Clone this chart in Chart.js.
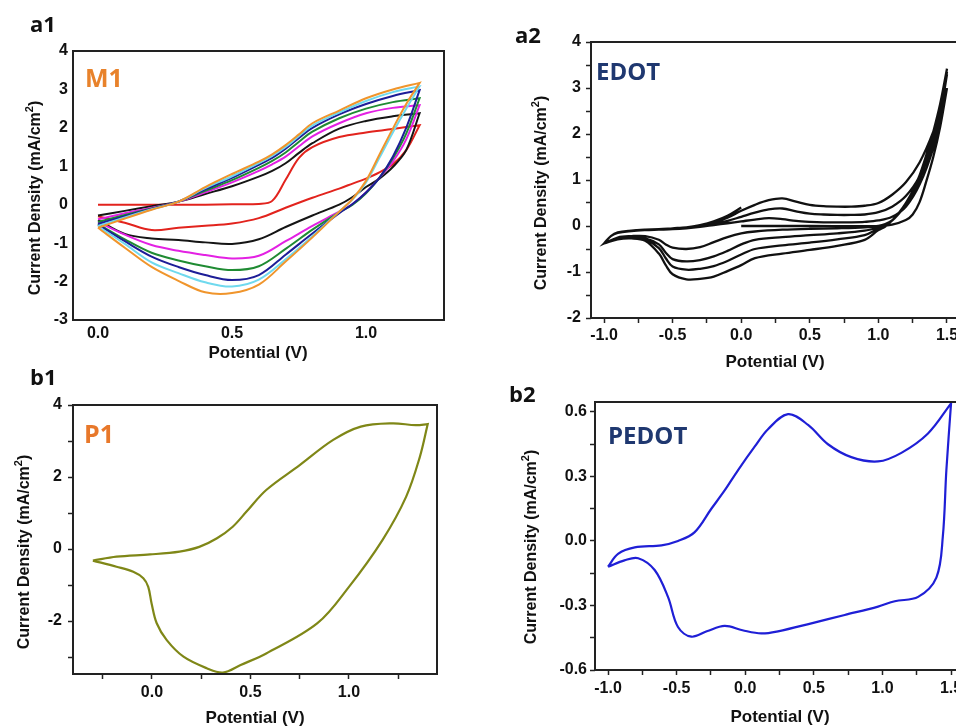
<!DOCTYPE html>
<html>
<head>
<meta charset="utf-8">
<title>CV curves M1 / EDOT / P1 / PEDOT</title>
<script src="https://cdn.jsdelivr.net/npm/chart.js@4.4.1/dist/chart.umd.min.js"></script>
<style>
  html, body { margin: 0; padding: 0; background: #fff; overflow: hidden; }
  #fig { position: relative; width: 956px; height: 727px; overflow: hidden; background: #fff; }
  #fig canvas { position: absolute; }
  .tag { position: absolute; font: 700 22px/22px "Open Sans", sans-serif; color: #111; }
</style>
</head>
<body>
<div id="fig">
  <canvas id="a1" width="478" height="372" style="left:0;top:0"></canvas>
  <canvas id="a2" width="500" height="372" style="left:478px;top:0"></canvas>
  <canvas id="b1" width="478" height="355" style="left:0;top:372px"></canvas>
  <canvas id="b2" width="500" height="355" style="left:478px;top:372px"></canvas>
  <div class="tag" style="left:30px;top:12px">a1</div>
  <div class="tag" style="left:515px;top:23px">a2</div>
  <div class="tag" style="left:30px;top:365px">b1</div>
  <div class="tag" style="left:509px;top:382px">b2</div>
</div>
<script>
// ---- M1 (a1): 7 cycles, shared potential grids ----
const m1FwdV = [0, 0.1, 0.2, 0.3, 0.4, 0.5, 0.6, 0.65, 0.7, 0.75, 0.8, 0.9, 1.0, 1.1, 1.2];
const m1RevV = [1.2, 1.15, 1.1, 1.05, 1.0, 0.95, 0.9, 0.8, 0.7, 0.6, 0.5, 0.4, 0.3, 0.2, 0.1, 0];
const m1OrangeF  = [-0.6, -0.36, -0.13, 0.08, 0.46, 0.8, 1.12, 1.31, 1.55, 1.83, 2.12, 2.45, 2.77, 3.0, 3.17];
const m1OrangeR  = [3.17, 2.62, 1.98, 1.3, 0.62, 0.15, -0.18, -0.85, -1.48, -2.08, -2.3, -2.28, -1.98, -1.62, -1.12, -0.6];
const m1CyanF    = [-0.55, -0.33, -0.12, 0.08, 0.43, 0.74, 1.08, 1.27, 1.5, 1.79, 2.06, 2.4, 2.7, 2.93, 3.08];
const m1CyanR    = [3.08, 2.5, 1.88, 1.22, 0.58, 0.14, -0.18, -0.82, -1.42, -1.95, -2.13, -2.02, -1.78, -1.5, -1.02, -0.56];
const m1BlueF    = [-0.5, -0.3, -0.11, 0.08, 0.4, 0.7, 1.04, 1.22, 1.46, 1.74, 2.0, 2.35, 2.62, 2.83, 2.98];
const m1BlueR    = [2.98, 2.0, 1.25, 0.7, 0.32, 0.02, -0.22, -0.75, -1.3, -1.83, -1.96, -1.83, -1.62, -1.35, -0.95, -0.52];
const m1GreenF   = [-0.45, -0.27, -0.1, 0.08, 0.36, 0.64, 0.96, 1.14, 1.36, 1.64, 1.9, 2.25, 2.5, 2.67, 2.77];
const m1GreenR   = [2.77, 1.85, 1.2, 0.7, 0.3, 0.0, -0.2, -0.65, -1.15, -1.6, -1.7, -1.6, -1.45, -1.25, -0.9, -0.5];
const m1MagentaF = [-0.38, -0.22, -0.08, 0.08, 0.32, 0.58, 0.88, 1.05, 1.25, 1.52, 1.78, 2.12, 2.38, 2.52, 2.59];
const m1MagentaR = [2.59, 1.7, 1.12, 0.7, 0.32, 0.02, -0.18, -0.55, -0.95, -1.33, -1.4, -1.31, -1.2, -1.05, -0.78, -0.45];
const m1BlackF   = [-0.28, -0.16, -0.04, 0.08, 0.28, 0.48, 0.73, 0.88, 1.08, 1.35, 1.6, 1.98, 2.18, 2.3, 2.38];
const m1BlackR   = [2.38, 1.42, 0.98, 0.68, 0.46, 0.2, 0.0, -0.28, -0.58, -0.9, -1.02, -0.98, -0.92, -0.88, -0.76, -0.4];
const m1RedF     = [0, 0, 0, 0, 0, 0.01, 0.02, 0.1, 0.65, 1.22, 1.5, 1.76, 1.88, 1.97, 2.07];
const m1RedR     = [2.07, 1.42, 1.05, 0.84, 0.68, 0.55, 0.42, 0.18, -0.08, -0.35, -0.49, -0.55, -0.6, -0.66, -0.47, -0.3];

// ---- EDOT (a2): 4 cycles ----
const edotStartV = [0, 0.5, 1.0, 1.1, 1.2, 1.25, 1.3, 1.35, 1.4, 1.45, 1.5];
const edotStartI = [0, 0, 0, 0.03, 0.13, 0.25, 0.52, 0.98, 1.5, 2.15, 3.0];
const edotRevV = [1.5, 1.45, 1.4, 1.35, 1.3, 1.25, 1.2, 1.15, 1.1, 1.05, 1.0, 0.9, 0.7, 0.5, 0.3, 0.1, 0.0, -0.1, -0.2, -0.3, -0.4, -0.5, -0.55, -0.6, -0.7, -0.8, -0.9, -1.0];
const edotRevA = [3.0, 2.4, 1.85, 1.4, 1.02, 0.7, 0.46, 0.27, 0.12, 0.04, 0.0, -0.03, -0.05, -0.06, -0.08, -0.12, -0.16, -0.24, -0.35, -0.46, -0.5, -0.47, -0.4, -0.3, -0.22, -0.22, -0.25, -0.38];
const edotRevB = [3.3, 2.55, 1.95, 1.45, 1.05, 0.72, 0.47, 0.28, 0.12, 0.02, -0.03, -0.1, -0.16, -0.2, -0.24, -0.3, -0.4, -0.54, -0.66, -0.74, -0.77, -0.72, -0.58, -0.4, -0.27, -0.24, -0.27, -0.38];
const edotRevC = [3.35, 2.6, 2.0, 1.5, 1.08, 0.74, 0.48, 0.28, 0.12, 0.0, -0.06, -0.2, -0.29, -0.36, -0.42, -0.5, -0.62, -0.76, -0.87, -0.93, -0.95, -0.88, -0.7, -0.48, -0.29, -0.25, -0.28, -0.38];
const edotRevD = [3.42, 2.65, 2.05, 1.55, 1.1, 0.76, 0.5, 0.29, 0.12, -0.01, -0.09, -0.3, -0.43, -0.52, -0.6, -0.7, -0.85, -0.98, -1.1, -1.15, -1.16, -1.05, -0.85, -0.6, -0.32, -0.27, -0.29, -0.38];
const edotFwdV = [-1.0, -0.95, -0.9, -0.8, -0.7, -0.6, -0.5, -0.4, -0.3, -0.2, -0.1, 0.0, 0.1, 0.2, 0.3, 0.4, 0.5, 0.6, 0.7, 0.8, 0.9, 1.0, 1.1, 1.2, 1.3, 1.4, 1.45, 1.5];
const edotUp1 = [-0.38, -0.22, -0.15, -0.11, -0.09, -0.08, -0.07, -0.05, -0.02, 0.02, 0.06, 0.1, 0.14, 0.17, 0.15, 0.11, 0.09, 0.08, 0.08, 0.08, 0.09, 0.12, 0.2, 0.42, 0.9, 1.7, 2.4, 3.3];
const edotUp2 = [-0.38, -0.22, -0.15, -0.1, -0.08, -0.07, -0.06, -0.04, -0.01, 0.04, 0.11, 0.2, 0.29, 0.36, 0.38, 0.32, 0.27, 0.25, 0.24, 0.24, 0.25, 0.3, 0.42, 0.65, 1.08, 1.85, 2.5, 3.35];
const edotUp3 = [-0.38, -0.22, -0.14, -0.1, -0.08, -0.07, -0.05, -0.03, 0.0, 0.07, 0.18, 0.33, 0.46, 0.56, 0.6, 0.53, 0.46, 0.43, 0.42, 0.42, 0.44, 0.5, 0.68, 0.95, 1.38, 2.05, 2.55, 3.42];
const edotLast = [-0.38, -0.22, -0.14, -0.1, -0.08, -0.07, -0.05, -0.03, 0.02, 0.1, 0.22, 0.4];

// ---- P1 (b1) ----
const p1FwdV = [-0.3, -0.18, -0.01, 0.14, 0.24, 0.33, 0.41, 0.48, 0.58, 0.75, 0.92, 1.06, 1.22, 1.34, 1.40];
const p1FwdI = [-0.32, -0.21, -0.15, -0.07, 0.06, 0.3, 0.62, 1.04, 1.64, 2.33, 3.03, 3.4, 3.49, 3.44, 3.47];
const p1RevV = [1.40, 1.36, 1.29, 1.17, 1.0, 0.84, 0.58, 0.45, 0.36, 0.278, 0.16, 0.075, 0.024, -0.002, -0.019, -0.044, -0.095, -0.18, -0.3];
const p1RevI = [3.47, 2.56, 1.45, 0.25, -1.05, -2.06, -2.9, -3.22, -3.43, -3.31, -2.99, -2.53, -2.06, -1.51, -1.05, -0.81, -0.63, -0.49, -0.32];

// ---- PEDOT (b2) ----
const pedotFwdV = [-1.0, -0.927, -0.805, -0.61, -0.49, -0.37, -0.247, -0.15, -0.052, 0.07, 0.166, 0.312, 0.458, 0.603, 0.773, 0.968, 1.138, 1.332, 1.5];
const pedotFwdI = [-0.12, -0.06, -0.03, -0.02, 0.0, 0.04, 0.15, 0.235, 0.33, 0.44, 0.52, 0.59, 0.54, 0.45, 0.39, 0.37, 0.41, 0.5, 0.64];
const pedotRevV = [1.5, 1.466, 1.44, 1.393, 1.26, 1.09, 0.968, 0.725, 0.482, 0.239, 0.117, -0.02, -0.15, -0.28, -0.393, -0.49, -0.563, -0.66, -0.78, -0.88, -1.0];
const pedotRevI = [0.64, 0.33, 0.02, -0.17, -0.26, -0.28, -0.305, -0.344, -0.383, -0.42, -0.43, -0.415, -0.395, -0.42, -0.445, -0.40, -0.26, -0.135, -0.08, -0.09, -0.12];

// ---- axis ticks ----
const a1XTicks = [0, 0.5, 1.0];
const a1YTicks = [4, 3, 2, 1, 0, -1, -2, -3];
const wideXTicks = [-1.0, -0.5, 0, 0.5, 1.0, 1.5];
const wideXMinor = [-0.75, -0.25, 0.25, 0.75, 1.25];
const a2YTicks = [4, 3, 2, 1, 0, -1, -2];
const a2YMinor = [3.5, 2.5, 1.5, 0.5, -0.5, -1.5];
const b1XTicks = [0, 0.5, 1.0];
const b1XMinor = [-0.25, 0.25, 0.75, 1.25];
const b1YTicks = [4, 2, 0, -2];
const b1YMinor = [3, 1, -1, -3];
const b2YTicks = [0.6, 0.3, 0, -0.3, -0.6];
const b2YMinor = [0.45, 0.15, -0.15, -0.45];

const AX_FONT = '"Liberation Sans", Arial, sans-serif';
const pts = (vs, is) => vs.map((v, k) => ({ x: v, y: is[k] }));
const fix1 = (v) => v.toFixed(1);
const plain = (v) => String(v);

function linAxis(min, max, majors, minors, fmt, size, pad, marks) {
  return {
    type: 'linear', min: min, max: max,
    afterBuildTicks: (s) => { s.ticks = majors.concat(minors).sort((p, q) => p - q).map((v) => ({ value: v })); },
    afterFit: (s) => { if (s.isHorizontal()) s.height = size; else s.width = size; },
    ticks: {
      autoSkip: false, maxRotation: 0, minRotation: 0, padding: pad, color: '#111',
      font: { family: AX_FONT, weight: 'bold', size: 16 },
      callback: (v) => majors.includes(v) ? fmt(v) : ''
    },
    grid: { display: marks, drawOnChartArea: false, drawTicks: marks, tickLength: 5, tickColor: '#222', tickWidth: 1.5 },
    border: { display: false }
  };
}

function yTitle(ctx, x, y) {
  const main = 'Current Density (mA/cm', sup = '2', tail = ')';
  const big = 'bold 16px ' + AX_FONT, small = 'bold 11px ' + AX_FONT;
  ctx.save();
  ctx.translate(x, y);
  ctx.rotate(-Math.PI / 2);
  ctx.font = big;
  const w1 = ctx.measureText(main).width, w3 = ctx.measureText(tail).width;
  ctx.font = small;
  const w2 = ctx.measureText(sup).width;
  const x0 = -(w1 + w2 + w3) / 2;
  ctx.textAlign = 'left'; ctx.textBaseline = 'middle'; ctx.fillStyle = '#111';
  ctx.font = big; ctx.fillText(main, x0, 0);
  ctx.font = small; ctx.fillText(sup, x0 + w1, -6);
  ctx.font = big; ctx.fillText(tail, x0 + w1 + w2, 0);
  ctx.restore();
}

// frame, axis titles and sample label
const panelDeco = {
  id: 'panelDeco',
  afterDraw(chart, args, o) {
    const { ctx, chartArea: a } = chart;
    ctx.save();
    ctx.strokeStyle = '#222'; ctx.lineWidth = 2;
    ctx.strokeRect(a.left, a.top, a.right - a.left, a.bottom - a.top);
    ctx.fillStyle = '#111'; ctx.textAlign = 'center'; ctx.textBaseline = 'middle';
    ctx.font = 'bold 17px ' + AX_FONT;
    ctx.fillText('Potential (V)', o.xTitle[0] - o.ox, o.xTitle[1] - o.oy);
    ctx.restore();
    yTitle(ctx, o.yTitle[0] - o.ox, o.yTitle[1] - o.oy);
    ctx.save();
    ctx.font = 'bold ' + o.size + 'px "Open Sans"';
    ctx.fillStyle = o.color; ctx.textAlign = 'left'; ctx.textBaseline = 'alphabetic';
    ctx.fillText(o.text, o.pos[0] - o.ox, o.pos[1] - o.oy);
    ctx.restore();
  }
};

function line(data, color, width) {
  return { data: data, showLine: true, borderColor: color, borderWidth: width, pointRadius: 0, tension: 0.35, fill: false };
}

function makePanel(id, datasets, xAxis, yAxis, pad, deco) {
  return new Chart(document.getElementById(id), {
    type: 'scatter',
    data: { datasets: datasets },
    options: {
      responsive: false, animation: false, devicePixelRatio: 1,
      layout: { padding: pad },
      scales: { x: xAxis, y: yAxis },
      plugins: { legend: { display: false }, tooltip: { enabled: false }, panelDeco: deco }
    },
    plugins: [panelDeco]
  });
}

// a1 - M1
const m1Curves = [
  [m1OrangeF, m1OrangeR, '#f0952c'],
  [m1CyanF, m1CyanR, '#6fd9ee'],
  [m1BlueF, m1BlueR, '#1d1d97'],
  [m1GreenF, m1GreenR, '#1f8b33'],
  [m1MagentaF, m1MagentaR, '#e321e3'],
  [m1BlackF, m1BlackR, '#151515'],
  [m1RedF, m1RedR, '#e2231d']
];
makePanel('a1',
  m1Curves.map((c) => line(pts(m1FwdV, c[0]).concat(pts(m1RevV, c[1])), c[2], 2)),
  linAxis(-0.0933, 1.291, a1XTicks, [], fix1, 52, 4, false),
  linAxis(-3, 4, a1YTicks, [], plain, 73, 5, false),
  { left: 0, top: 51, right: 34, bottom: 0 },
  { ox: 0, oy: 0, xTitle: [258, 353], yTitle: [36, 198], text: 'M1', color: '#e8822b', size: 25, pos: [85, 87] });

// a2 - EDOT
const edotTrace = [].concat(
  pts(edotStartV, edotStartI), pts(edotRevV, edotRevA), pts(edotFwdV, edotUp1),
  pts(edotRevV, edotRevB), pts(edotFwdV, edotUp2),
  pts(edotRevV, edotRevC), pts(edotFwdV, edotUp3),
  pts(edotRevV, edotRevD), pts(edotFwdV.slice(0, edotLast.length), edotLast));
makePanel('a2',
  [line(edotTrace, '#111', 2.3)],
  linAxis(-1.0948, 1.6385, wideXTicks, wideXMinor, fix1, 54, 3, true),
  linAxis(-2, 4, a2YTicks, a2YMinor, plain, 113, 5, true),
  { left: 0, top: 42, right: 12, bottom: 0 },
  { ox: 478, oy: 0, xTitle: [775, 362], yTitle: [542, 193], text: 'EDOT', color: '#1f3870', size: 24, pos: [596, 80] });

// b1 - P1
makePanel('b1',
  [line(pts(p1FwdV, p1FwdI).concat(pts(p1RevV, p1RevI)), '#7f8717', 2.2)],
  linAxis(-0.401, 1.447, b1XTicks, b1XMinor, fix1, 53, 4, true),
  linAxis(-3.47, 4, b1YTicks, b1YMinor, plain, 73, 6, true),
  { left: 0, top: 33, right: 41, bottom: 0 },
  { ox: 0, oy: 372, xTitle: [255, 718], yTitle: [25, 552], text: 'P1', color: '#e8782a', size: 25, pos: [84, 443] });

// b2 - PEDOT
makePanel('b2',
  [line(pts(pedotFwdV, pedotFwdI).concat(pts(pedotRevV, pedotRevI)), '#1f1fd6', 2.2)],
  linAxis(-1.0948, 1.609, wideXTicks, wideXMinor, fix1, 57, 4, true),
  linAxis(-0.6, 0.6465, b2YTicks, b2YMinor, fix1, 117, 3, true),
  { left: 0, top: 30, right: 12, bottom: 0 },
  { ox: 478, oy: 372, xTitle: [780, 717], yTitle: [532, 547], text: 'PEDOT', color: '#1f3870', size: 24, pos: [608, 444] });
</script>
</body>
</html>
